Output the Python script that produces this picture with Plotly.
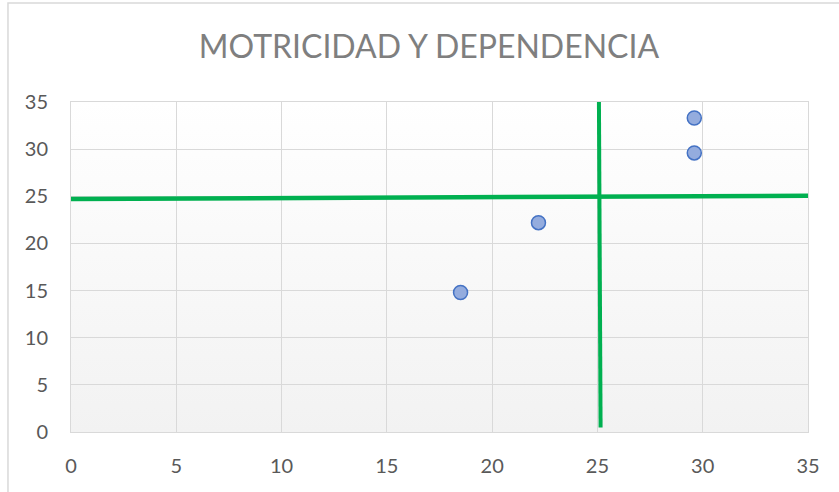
import base64
import plotly.graph_objects as go

# ---- data ----
X_VALUES = [18.5, 22.2, 29.6, 29.6]
Y_VALUES = [14.8, 22.2, 29.6, 33.3]

# quadrant divider lines (hand drawn in the original)
H_LINE_X = [-0.14, 35.0]
H_LINE_Y = [24.71, 25.06]
V_LINE_X = [25.07, 25.15]
V_LINE_Y = [35.64, 0.48]

X_RANGE = [0, 35]
Y_RANGE = [0, 35]
TICK_VALS = [0, 5, 10, 15, 20, 25, 30, 35]
TICK_TEXT = ["0", "5", "10", "15", "20", "25", "30", "35"]

TITLE = "MOTRICIDAD Y DEPENDENCIA"

FONT = "Lato"
GREEN = "#00b050"
GRID = "#d9d9d9"

# vertical gradient background (white at top, light grey at bottom)
svg = (
    '<svg xmlns="http://www.w3.org/2000/svg" width="100" height="100" preserveAspectRatio="none">'
    '<defs><linearGradient id="g" x1="0" y1="0" x2="0" y2="1">'
    '<stop offset="0" stop-color="#ffffff"/><stop offset="1" stop-color="#f2f2f2"/>'
    '</linearGradient></defs><rect width="100" height="100" fill="url(#g)"/></svg>'
)
bg_uri = "data:image/svg+xml;base64," + base64.b64encode(svg.encode()).decode()

fig = go.Figure()

fig.add_trace(go.Scatter(
    x=X_VALUES, y=Y_VALUES, mode="markers",
    marker=dict(size=14, color="#94acde", line=dict(color="#4472c4", width=1.5)),
    showlegend=False, hoverinfo="x+y",
))

fig.add_trace(go.Scatter(
    x=H_LINE_X, y=H_LINE_Y, mode="lines",
    line=dict(color=GREEN, width=4.5), cliponaxis=False,
    showlegend=False, hoverinfo="skip",
))
fig.add_trace(go.Scatter(
    x=V_LINE_X, y=V_LINE_Y, mode="lines",
    line=dict(color=GREEN, width=4), cliponaxis=False,
    showlegend=False, hoverinfo="skip",
))

fig.add_layout_image(dict(
    source=bg_uri, xref="x", yref="y",
    x=X_RANGE[0], y=Y_RANGE[1],
    sizex=X_RANGE[1] - X_RANGE[0], sizey=Y_RANGE[1] - Y_RANGE[0],
    sizing="stretch", layer="below", xanchor="left", yanchor="top",
))

# chart-area border (Excel chart frame)
fig.add_shape(type="rect", xref="paper", yref="paper",
              x0=-0.0855, x1=1.2, y0=-0.3, y1=1.3,
              line=dict(color=GRID, width=1.5), fillcolor="rgba(0,0,0,0)", layer="below")

axis_common = dict(
    tickvals=TICK_VALS, ticktext=TICK_TEXT,
    showgrid=True, gridcolor=GRID, gridwidth=1,
    zeroline=False, showline=True, linecolor=GRID, linewidth=1, mirror=True,
    ticks="", tickfont=dict(family=FONT, size=20, color="#595959"),
    fixedrange=True,
)

fig.update_layout(
    width=839, height=492,
    margin=dict(l=71, r=31, t=102, b=60),
    paper_bgcolor="#ffffff",
    plot_bgcolor="#ffffff",
    title=dict(text=TITLE, font=dict(family=FONT, size=32, color="#7f7f7f"),
               x=0.5113, xref="container", xanchor="center",
               y=0.905, yref="container", yanchor="middle"),
    xaxis=dict(range=X_RANGE, ticklabelstandoff=16, **axis_common),
    yaxis=dict(range=Y_RANGE, ticklabelstandoff=18, **axis_common),
    showlegend=False,
)

fig.write_html(
    "out.html",
    config={"displayModeBar": False},
    post_script="document.body.style.margin='0';document.body.style.overflow='hidden';",
)
